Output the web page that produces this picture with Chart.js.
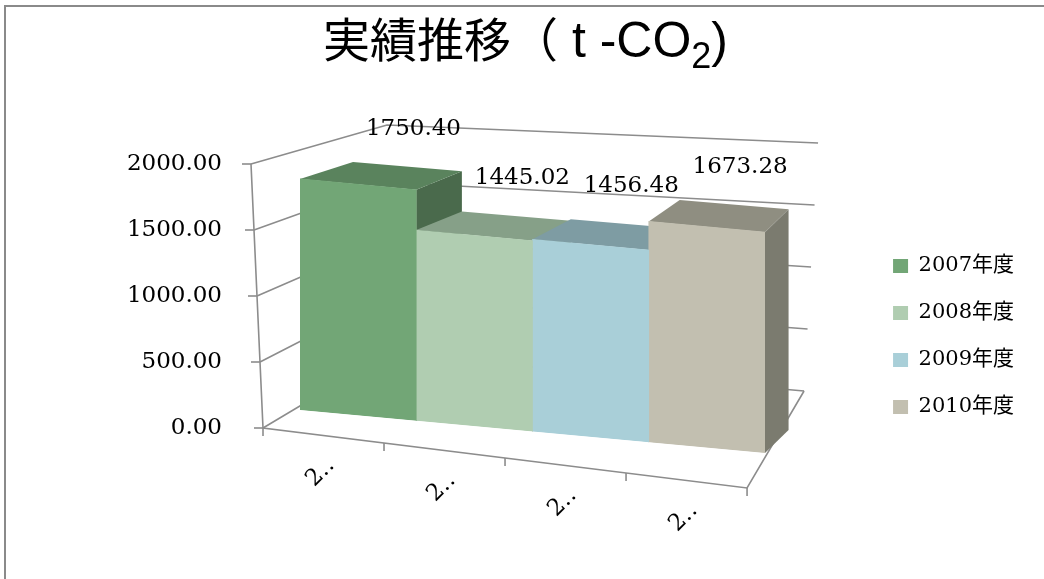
<!DOCTYPE html>
<html>
<head>
<meta charset="utf-8">
<script src="https://cdn.jsdelivr.net/npm/chart.js@4.4.1/dist/chart.umd.min.js"></script>
<style>
  html, body { margin: 0; padding: 0; background: #fff; }
  #wrap { width: 1044px; height: 579px; }
</style>
</head>
<body>
<div id="wrap"><canvas id="chart" width="1044" height="579"></canvas></div>
<script>
var categories = ['2007年度', '2008年度', '2009年度', '2010年度'];
var seriesNames = ['2007年度', '2008年度', '2009年度', '2010年度'];
var seriesValues = [1750.40, 1445.02, 1456.48, 1673.28];
var yTicks = [0, 500, 1000, 1500, 2000];

var frontColors = ['#72a676', '#b0cdb1', '#a9cfd8', '#c2bfb0'];
var topColors = ['#5a835d', '#86a088', '#7e9ca3', '#8f8e81'];
var sideColors = ['#4a6a4c', '#6f8772', '#66818a', '#7b7b6f'];

var serif = '"DejaVu Serif", "Noto Sans CJK JP", serif';
var lineColor = '#8c8c8c';

// affine tilt used for the bar fronts (floor goes down to the right)
function barMatrix(ca) {
    var a = 465 / ca.width;
    var b = 43 / ca.width;
    return {a: a, b: b, e: ca.left + 37 - a * ca.left, f: -18 - b * ca.left};
}

function apply(m, x, y) {
    return [m.a * x + m.e, m.b * x + y + m.f];
}

// depth vector of the boxes, shrinking to the right (perspective)
function depthAt(x, ca) {
    var t = (x - (ca.left + 37)) / 474;
    return [53 - 30 * t, -17 - 6 * t];
}

function frameCorners(ca) {
    return {
        flb: [ca.left, ca.bottom], flt: [ca.left - 12, ca.top],
        frb: [ca.right, ca.bottom + 60], frt: [ca.right + 14, ca.top + 26],
        blb: [ca.left + 124, ca.bottom - 74], blt: [ca.left + 124, ca.top - 39],
        brb: [ca.right + 57, ca.bottom - 37], brt: [ca.right + 71, ca.top - 21]
    };
}

function lerp(p, q, t) {
    return [p[0] + (q[0] - p[0]) * t, p[1] + (q[1] - p[1]) * t];
}

function project(c, u, w, f) {
    var bottom = lerp(lerp(c.flb, c.frb, u), lerp(c.blb, c.brb, u), w);
    var top = lerp(lerp(c.flt, c.frt, u), lerp(c.blt, c.brt, u), w);
    return lerp(bottom, top, f);
}

function line(ctx, pts) {
    ctx.beginPath();
    ctx.moveTo(pts[0][0], pts[0][1]);
    for (var i = 1; i < pts.length; i++) ctx.lineTo(pts[i][0], pts[i][1]);
    ctx.stroke();
}

function poly(ctx, pts, color) {
    ctx.beginPath();
    ctx.moveTo(pts[0][0], pts[0][1]);
    for (var i = 1; i < pts.length; i++) ctx.lineTo(pts[i][0], pts[i][1]);
    ctx.closePath();
    ctx.fillStyle = color;
    ctx.fill();
}

function barOf(chart, i) {
    return chart.getDatasetMeta(i).data[i];
}

var box3d = {
    id: 'box3d',
    beforeDraw: function (chart) {
        var ctx = chart.ctx;
        ctx.save();
        ctx.fillStyle = '#fff';
        ctx.fillRect(0, 0, chart.width, chart.height);
        ctx.restore();
    },
    beforeDatasetsDraw: function (chart) {
        var ctx = chart.ctx;
        var ca = chart.chartArea;
        var ys = chart.scales.y;
        var c = frameCorners(ca);

        ctx.save();
        ctx.strokeStyle = lineColor;
        ctx.lineWidth = 1.6;

        // walls
        ys.ticks.forEach(function (t) {
            var f = (ca.bottom - ys.getPixelForValue(t.value)) / ca.height;
            line(ctx, [project(c, 0, 0, f), project(c, 0, 1, f), project(c, 1, 1, f)]);
            var p = project(c, 0, 0, f);
            line(ctx, [[p[0] - 9, p[1]], p]);
        });
        // floor and vertical axis
        line(ctx, [project(c, 0, 0, 1), project(c, 0, 0, 0), project(c, 1, 0, 0), project(c, 1, 1, 0)]);

        // category ticks on the front edge
        var edges = [0];
        seriesValues.forEach(function (v, i) {
            var el = barOf(chart, i);
            edges.push((el.x + el.width / 2 - ca.left) / ca.width);
        });
        edges.forEach(function (u) {
            var p = project(c, u, 0, 0);
            line(ctx, [p, [p[0], p[1] + 8]]);
        });

        // category labels
        ctx.fillStyle = '#000';
        ctx.font = '23px ' + serif;
        ctx.textAlign = 'center';
        ctx.textBaseline = 'middle';
        categories.forEach(function (cat, i) {
            var el = barOf(chart, i);
            var p = project(c, (el.x - ca.left) / ca.width, 0, 0);
            ctx.save();
            ctx.translate(p[0] - 3, p[1] + 37);
            ctx.rotate(-Math.PI / 4);
            ctx.fillText(cat.charAt(0) + '‥', 0, 0);
            ctx.restore();
        });

        // top and side faces, left to right
        var m = barMatrix(ca);
        seriesValues.forEach(function (v, i) {
            var el = barOf(chart, i);
            var xl = el.x - el.width / 2, xr = el.x + el.width / 2;
            var tl = apply(m, xl, el.y), tr = apply(m, xr, el.y), br = apply(m, xr, el.base);
            var dtl = depthAt(tl[0], ca), dtr = depthAt(tr[0], ca), dbr = depthAt(br[0], ca);
            poly(ctx, [tr, br, [br[0] + dbr[0], br[1] + dbr[1]], [tr[0] + dtr[0], tr[1] + dtr[1]]], sideColors[i]);
            poly(ctx, [tl, tr, [tr[0] + dtr[0], tr[1] + dtr[1]], [tl[0] + dtl[0], tl[1] + dtl[1]]], topColors[i]);
        });
        ctx.restore();

        // fronts are drawn by Chart.js in the tilted frame
        ctx.save();
        ctx.transform(m.a, m.b, 0, 1, m.e, m.f);
    },
    afterDatasetsDraw: function (chart) {
        var ctx = chart.ctx;
        var ca = chart.chartArea;
        ctx.restore();

        var m = barMatrix(ca);
        ctx.save();
        ctx.fillStyle = '#000';
        ctx.font = '23px ' + serif;
        ctx.textAlign = 'center';
        ctx.textBaseline = 'middle';
        seriesValues.forEach(function (v, i) {
            var el = barOf(chart, i);
            var p = apply(m, el.x, el.y);
            var d = depthAt(p[0], ca);
            ctx.fillText(v.toFixed(2), p[0] + d[0] + 6, p[1] + d[1] - 38);
        });
        ctx.restore();
    },
    afterDraw: function (chart) {
        var ctx = chart.ctx;
        ctx.save();
        // outer frame
        ctx.strokeStyle = '#8a8a8a';
        ctx.lineWidth = 2;
        line(ctx, [[5, chart.height], [5, 6], [chart.width, 6]]);

        // title: kanji part, latin part, subscript, closing bracket
        var parts = [
            {text: '実績推移（', font: '47px "Noto Sans CJK JP", sans-serif', dy: 0},
            {text: ' t -CO', font: '50px "Liberation Sans", sans-serif', dy: 0},
            {text: '2', font: '36px "Liberation Sans", sans-serif', dy: 11},
            {text: ')', font: '50px "Liberation Sans", sans-serif', dy: 0}
        ];
        var x = 323, base = 57;
        ctx.fillStyle = '#000';
        ctx.textAlign = 'left';
        ctx.textBaseline = 'alphabetic';
        parts.forEach(function (p) {
            ctx.font = p.font;
            ctx.fillText(p.text, x, base + p.dy);
            x += ctx.measureText(p.text).width;
        });
        ctx.restore();
    }
};

var datasets = seriesNames.map(function (name, i) {
    return {
        label: name,
        data: categories.map(function (cat, j) { return j === i ? seriesValues[i] : null; }),
        backgroundColor: frontColors[i],
        borderWidth: 0,
        categoryPercentage: 1,
        barPercentage: 1
    };
});

var hidden = {display: false, drawTicks: false};

new Chart(document.getElementById('chart').getContext('2d'), {
    type: 'bar',
    data: {labels: categories, datasets: datasets},
    options: {
        responsive: false,
        animation: false,
        events: [],
        layout: {padding: {top: 104, bottom: 10, left: 0, right: 20}},
        plugins: {
            title: {display: false},
            tooltip: {enabled: false},
            legend: {
                position: 'right',
                labels: {
                    boxWidth: 15,
                    boxHeight: 14,
                    padding: 26,
                    color: '#000',
                    font: {family: serif, size: 21}
                }
            }
        },
        scales: {
            x: {
                stacked: true,
                grid: hidden,
                border: {display: false},
                ticks: {display: false},
                afterFit: function (s) { s.height = 141; }
            },
            y: {
                stacked: true,
                min: 0,
                max: 2000,
                grid: hidden,
                border: {display: false},
                afterBuildTicks: function (s) {
                    s.ticks = yTicks.map(function (v) { return {value: v}; });
                },
                ticks: {
                    padding: 41,
                    color: '#000',
                    font: {family: serif, size: 23},
                    callback: function (v) { return Number(v).toFixed(2); }
                },
                afterFit: function (s) { s.width = 263; }
            },
            topGap: {
                type: 'category',
                axis: 'x',
                position: 'top',
                grid: hidden,
                border: {display: false},
                ticks: {display: false},
                afterFit: function (s) { s.height = 60; }
            },
            sideGap: {
                type: 'linear',
                axis: 'y',
                position: 'right',
                grid: hidden,
                border: {display: false},
                ticks: {display: false},
                afterFit: function (s) { s.width = 120; }
            }
        }
    },
    plugins: [box3d]
});
</script>
</body>
</html>
